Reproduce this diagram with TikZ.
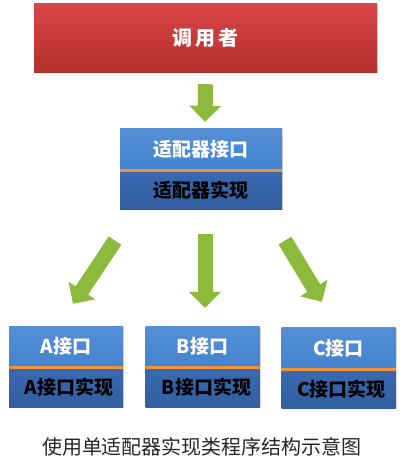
\documentclass[tikz,border=0pt]{standalone}
\usepackage{fontspec}
\newfontfamily\cjk{Noto Sans CJK SC}
\usepackage{tikz}
\usetikzlibrary{arrows.meta,positioning,calc,shadows}
\definecolor{callred}{HTML}{D94646}
\definecolor{callredlow}{HTML}{B3302E}
\definecolor{boxblue}{HTML}{4383D0}
\definecolor{implblue}{HTML}{3869B2}
\definecolor{lineorange}{HTML}{F39237}
\definecolor{arrowgreen}{HTML}{8DBA3C}
\tikzset{
  caller/.style={
    rectangle, minimum width=343pt, minimum height=69pt,
    top color=callred, bottom color=callredlow,
    drop shadow={opacity=0.3, shadow xshift=1pt, shadow yshift=-1pt},
    text=white, font=\cjk\bfseries\fontsize{20}{22}\selectfont
  },
  ifbox/.style={
    rectangle, inner sep=0pt,
    top color=boxblue!90!white, bottom color=boxblue,
    drop shadow={opacity=0.3, shadow xshift=1pt, shadow yshift=-1pt},
    text=white, font=\cjk\bfseries\fontsize{19}{21}\selectfont
  },
  implbox/.style={
    rectangle, inner sep=0pt,
    top color=implblue, bottom color=implblue!90!black,
    drop shadow={opacity=0.3, shadow xshift=1pt, shadow yshift=-1pt},
    text=black, font=\cjk\bfseries\fontsize{19}{21}\selectfont
  },
  sepline/.style={draw=lineorange, line width=3pt},
  bigarrow/.style={
    draw=arrowgreen, line width=15pt,
    -{Triangle[width=31pt,length=16pt]}
  }
}

\begin{document}
\begin{tikzpicture}[x=1pt,y=-1pt]
  \useasboundingbox (0,0) rectangle (404,467);

  % caller
  \node[caller] (call) at (205.5,37.5) {调\hspace{3pt}用\hspace{3pt}者};

  % adapter
  \node[ifbox, minimum width=162pt, minimum height=42pt] (adIf) at (201,149) {适配器接口};
  \node[implbox, minimum width=162pt, minimum height=39pt, below=0pt of adIf] (adImpl) {适配器实现};
  \draw[sepline] (adIf.south west) -- (adIf.south east);

  % interfaces
  \node[ifbox, minimum width=114pt, minimum height=41pt] (aIf) at (66,346.5) {A接口};
  \node[implbox, minimum width=114pt, minimum height=40pt, below=0pt of aIf] (aImpl) {\hspace{6pt}A接口实现};
  \draw[sepline] (aIf.south west) -- (aIf.south east);

  \node[ifbox, minimum width=114pt, minimum height=41pt] (bIf) at (202.5,346.5) {B接口};
  \node[implbox, minimum width=114pt, minimum height=40pt, below=0pt of bIf] (bImpl) {\hspace{8pt}B接口实现};
  \draw[sepline] (bIf.south west) -- (bIf.south east);

  \node[ifbox, minimum width=114pt, minimum height=42pt] (cIf) at (338.5,348) {C接口};
  \node[implbox, minimum width=114pt, minimum height=39pt, below=0pt of cIf] (cImpl) {\hspace{6pt}C接口实现};
  \draw[sepline] (cIf.south west) -- (cIf.south east);

  % arrows
  \draw[bigarrow] ($(call.south)+(0,12)$) -- ($(adIf.north)+(4,-6)$);
  \draw[bigarrow] ($(adImpl.south)+(-86,31)$) -- ($(aIf.north)+(7,-22)$);
  \draw[bigarrow] ($(adImpl.south)+(4,24)$) -- ($(bIf.north)+(2.5,-18)$);
  \draw[bigarrow] ($(adImpl.south)+(84,31)$) -- ($(cIf.north)+(-16.5,-25)$);

  % caption
  \node[font=\cjk\fontsize{20}{22}\selectfont, text=black!85] (cap) at (202,447) {使用单适配器实现类程序结构示意图};
\end{tikzpicture}
\end{document}
